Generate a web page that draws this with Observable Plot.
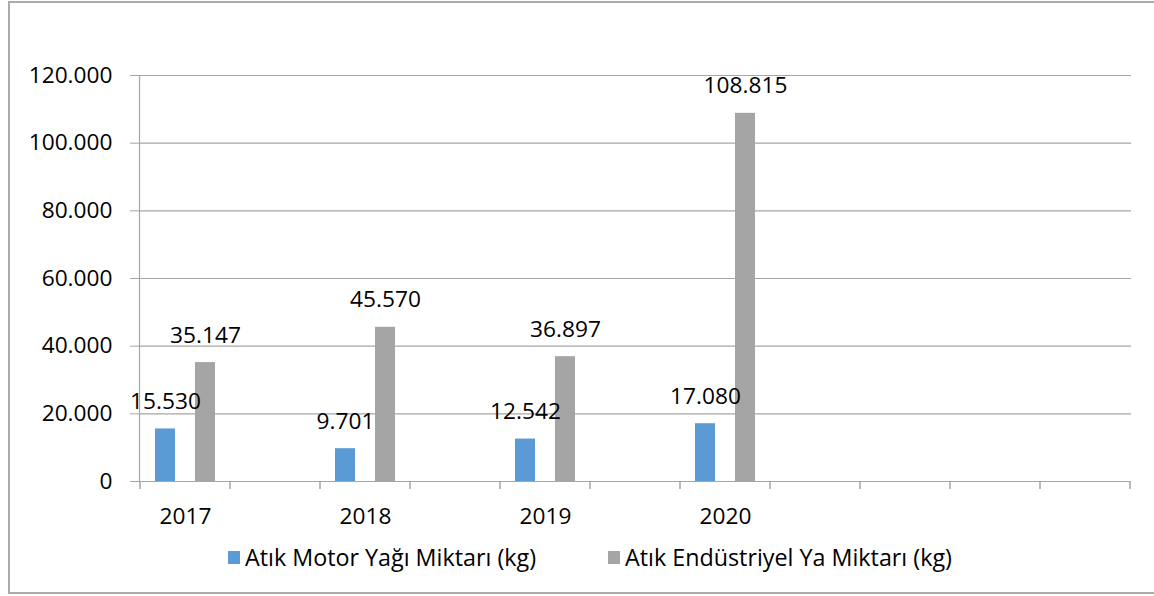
<!DOCTYPE html>
<html><head><meta charset="utf-8">
<script src="https://cdn.jsdelivr.net/npm/d3@7"></script>
<script src="https://cdn.jsdelivr.net/npm/@observablehq/plot@0.6"></script>
<style>
html,body{margin:0;padding:0;background:#fff;}
body{width:1154px;height:596px;overflow:hidden;position:relative;font-family:"Open Sans",sans-serif;color:#000;}
#frame{position:absolute;left:8px;top:1px;width:1200px;height:593px;border:2px solid #ababab;box-sizing:border-box;pointer-events:none;}
#chart{position:absolute;left:0;top:0;}
.leg{position:absolute;top:544px;display:flex;align-items:center;font-size:23.3px;line-height:26px;white-space:nowrap;}
.sw{width:12px;height:13px;margin-right:5px;display:inline-block;}
</style>
</head><body>
<div id="frame"></div>
<div id="chart"></div>
<div class="leg" id="leg1" style="left:228px"></div>
<div class="leg" id="leg2" style="left:608px"></div>
<script>
// ---- data ----
const categories = ["2017", "", "2018", "", "2019", "", "2020", "", "", "", ""];
const years = ["2017", "2018", "2019", "2020"];
const motorOil = [15530, 9701, 12542, 17080];
const industrialOil = [35147, 45570, 36897, 108815];
const seriesNames = ["Atık Motor Yağı Miktarı (kg)", "Atık Endüstriyel Ya Miktarı (kg)"];
const seriesColors = ["#5b9bd5", "#a5a5a5"];
const yTicks = [0, 20000, 40000, 60000, 80000, 100000, 120000];

const fmt = d3.formatLocale({decimal: ",", thousands: ".", grouping: [3], currency: ["", ""]}).format(",d");
const rows = years.map((y, i) => ({cat: categories.indexOf(y), motor: motorOil[i], ind: industrialOil[i]}));
const FS = 22.7;
const gridColor = "#a6a6a6";

const chart = Plot.plot({
  width: 1154,
  height: 540,
  marginLeft: 139,
  marginRight: 23,
  marginTop: 75,
  marginBottom: 59,
  style: {fontFamily: "'Open Sans', sans-serif", fontSize: FS + "px", color: "#000", background: "transparent"},
  x: {type: "band", domain: d3.range(categories.length), padding: 0},
  y: {domain: [0, 120000]},
  marks: [
    Plot.ruleY(yTicks.filter(v => v > 0), {stroke: gridColor, strokeWidth: 1.2}),
    Plot.barY(rows, {x: "cat", y: "motor", fill: seriesColors[0], insetLeft: 15, insetRight: 55}),
    Plot.barY(rows, {x: "cat", y: "ind", fill: seriesColors[1], insetLeft: 55, insetRight: 15}),
    Plot.ruleY([0], {stroke: gridColor, strokeWidth: 1.2}),
    Plot.frame({anchor: "left", stroke: gridColor, strokeWidth: 1.2}),
    Plot.axisY({ticks: yTicks, tickSize: 9, tickPadding: 18, tickFormat: fmt, stroke: gridColor, fill: "#000", fontSize: FS, label: null}),
    Plot.axisX({tickSize: 0, tickPadding: 26, tickFormat: i => categories[i], fill: "#000", fontSize: FS, label: null}),
    Plot.text(rows, {x: "cat", y: "motor", text: d => fmt(d.motor), dx: -20, dy: -20, lineAnchor: "bottom", fill: "#000", fontSize: FS}),
    Plot.text(rows, {x: "cat", y: "ind", text: d => fmt(d.ind), dx: 20, dy: -20, lineAnchor: "bottom", fill: "#000", fontSize: FS})
  ]
});

// category boundary tick marks on the x axis, from the x scale
const xs = chart.scale("x"), ys = chart.scale("y");
const y0 = ys.apply(0);
const edges = xs.domain.map(d => xs.apply(d)).concat([xs.apply(xs.domain[xs.domain.length - 1]) + xs.bandwidth]);
d3.select(chart).append("g")
  .selectAll("line").data(edges).join("line")
  .attr("x1", d => d).attr("x2", d => d)
  .attr("y1", y0).attr("y2", y0 + 8)
  .attr("stroke", gridColor).attr("stroke-width", 1.5);

document.getElementById("chart").appendChild(chart);

["leg1", "leg2"].forEach((id, i) => {
  const el = document.getElementById(id);
  const sw = document.createElement("span");
  sw.className = "sw";
  sw.style.background = seriesColors[i];
  el.appendChild(sw);
  el.appendChild(document.createTextNode(seriesNames[i]));
});
</script>
</body></html>
